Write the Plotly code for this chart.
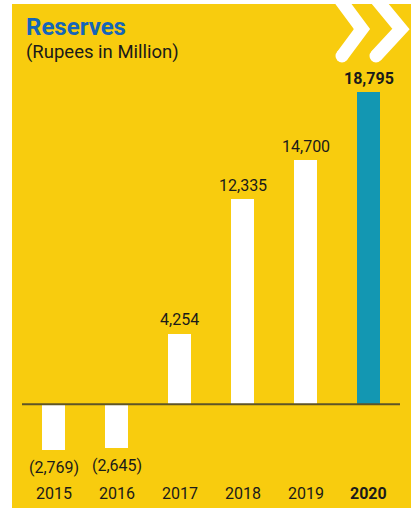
import plotly.graph_objects as go

years = ["2015", "2016", "2017", "2018", "2019", "2020"]
reserves = [-2769, -2645, 4254, 12335, 14700, 18795]
labels = ["(2,769)", "(2,645)", "4,254", "12,335", "14,700", "18,795"]
highlight_year = "2020"

W, H = 411, 508
YELLOW = "#F8CC0E"
TEAL = "#1397B2"
WHITE = "#FFFFFF"
BLUE = "#1565B8"
TEXT = "#1a1a1a"

def px(x):
    return x / W

def py(y):
    return 1 - y / H

colors = [TEAL if y == highlight_year else WHITE for y in years]

fig = go.Figure()
fig.add_trace(go.Bar(
    x=list(range(len(years))), y=reserves, marker=dict(color=colors, line=dict(width=0)),
    width=0.365, hoverinfo="skip",
))

shapes = []
# yellow panel
shapes.append(dict(type="rect", xref="paper", yref="paper", x0=px(12), x1=px(411), y0=py(508), y1=py(4),
                   fillcolor=YELLOW, line=dict(width=0), layer="below"))
# zero line
shapes.append(dict(type="line", xref="paper", yref="y", x0=px(22), x1=px(400), y0=0, y1=0,
                   line=dict(color="#5E5427", width=2), layer="above"))

# chevrons
def chev(pts):
    d = "M " + " L ".join(f"{px(a)},{py(b)}" for a, b in pts)
    return dict(type="path", xref="paper", yref="paper", path=d, line=dict(color=WHITE, width=13))

def cap(cx, cy, r=6.5):
    return dict(type="circle", xref="paper", yref="paper", x0=px(cx - r), x1=px(cx + r),
                y0=py(cy + r), y1=py(cy - r), fillcolor=WHITE, line=dict(width=0))

chevA = [(336, -6), (362, 29), (342, 56)]
chevB = [(372, -6), (401, 29), (376, 56)]
for c in (chevA, chevB):
    shapes.append(chev(c))
    shapes.append(cap(c[1][0] - 1.5, c[1][1], 6.8))
    shapes.append(cap(*c[2]))

annotations = []
for i, (v, lab, yr) in enumerate(zip(reserves, labels, years)):
    bold = yr == highlight_year
    annotations.append(dict(
        x=i, y=v, xref="x", yref="y", text=f"<b>{lab}</b>" if bold else lab, showarrow=False,
        yanchor="middle", yshift=(14 if v > 0 else -17),
        font=dict(family="Roboto", size=16, color=TEXT),
    ))
    annotations.append(dict(
        x=i, y=py(493), xref="x", yref="paper", text=f"<b>{yr}</b>" if bold else yr, showarrow=False,
        yanchor="middle", font=dict(family="Roboto", size=16, color=TEXT),
    ))

annotations.append(dict(x=px(24), y=py(27), xref="paper", yref="paper", text="<b>Reserves</b>",
                        showarrow=False, xanchor="left", yanchor="middle",
                        font=dict(family="Roboto", size=24, color=BLUE)))
annotations.append(dict(x=px(24), y=py(52), xref="paper", yref="paper", text="(Rupees in Million)",
                        showarrow=False, xanchor="left", yanchor="middle",
                        font=dict(family="Roboto", size=18.5, color=TEXT)))

# axis ranges so category centres fall at 53.5 + 63*i px and zero at 404 px
a = -53.5 / 63
b = a + W / 63
y_top = 404.3 / 312.3 * 18795
y_bot = -(H - 404.3) / 312.3 * 18795

fig.update_layout(
    width=W, height=H, margin=dict(l=0, r=0, t=0, b=0),
    paper_bgcolor=WHITE, plot_bgcolor="rgba(0,0,0,0)",
    xaxis=dict(range=[a, b], visible=False, fixedrange=True),
    yaxis=dict(range=[y_bot, y_top], visible=False, fixedrange=True),
    shapes=shapes, annotations=annotations, showlegend=False, bargap=0,
)

fig.write_html("out.html")
